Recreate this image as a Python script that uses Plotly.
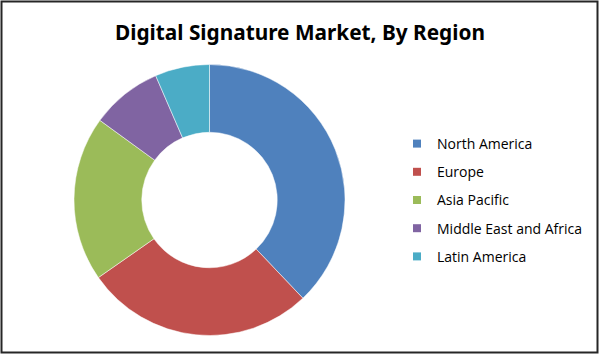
import plotly.graph_objects as go

regions = ["North America", "Europe", "Asia Pacific", "Middle East and Africa", "Latin America"]
shares = [37.9, 27.4, 19.7, 8.5, 6.5]
colors = ["#4F81BD", "#C0504D", "#9BBB59", "#8064A2", "#4BACC6"]
title_text = "Digital Signature Market, By Region"

W, H = 600, 355
fig = go.Figure()

cx, cy, r = 209.5, 200.0, 135.5
fig.add_trace(go.Pie(
    labels=regions, values=shares, hole=0.5, sort=False, direction="clockwise",
    rotation=0, marker=dict(colors=colors, line=dict(color="white", width=0.5)),
    textinfo="none", hoverinfo="label+percent", showlegend=False,
    domain=dict(x=[(cx - r) / W, (cx + r) / W], y=[(H - cy - r) / H, (H - cy + r) / H]),
))

for i, (name, col) in enumerate(zip(regions, colors)):
    fig.add_trace(go.Scatter(
        x=[None], y=[None], mode="markers", name=name, legendgroup=f"g{i}",
        marker=dict(symbol="square", size=8, color=col),
    ))

fig.update_layout(
    width=W, height=H, margin=dict(l=0, r=0, t=0, b=0),
    paper_bgcolor="white", plot_bgcolor="white",
    font=dict(family="Open Sans, Liberation Sans, sans-serif", color="#000000"),
    title=dict(text=f"<b>{title_text}</b>", x=0.5, xanchor="center", y=1 - 33 / H, yanchor="middle",
               font=dict(size=20.8, family="Noto Sans, Liberation Sans, sans-serif", color="#000000")),
    xaxis=dict(visible=False), yaxis=dict(visible=False),
    legend=dict(x=397 / W, xanchor="left", y=1 - 128 / H, yanchor="top",
                font=dict(size=14, color="#000000"), tracegroupgap=7,
                itemwidth=30, bgcolor="rgba(0,0,0,0)"),
    shapes=[dict(type="rect", xref="paper", yref="paper",
                 x0=1.5 / W, x1=597.5 / W, y0=1 - 352.5 / H, y1=1 - 1.5 / H,
                 line=dict(color="#262626", width=2))],
)

fig.write_html("out.html")
